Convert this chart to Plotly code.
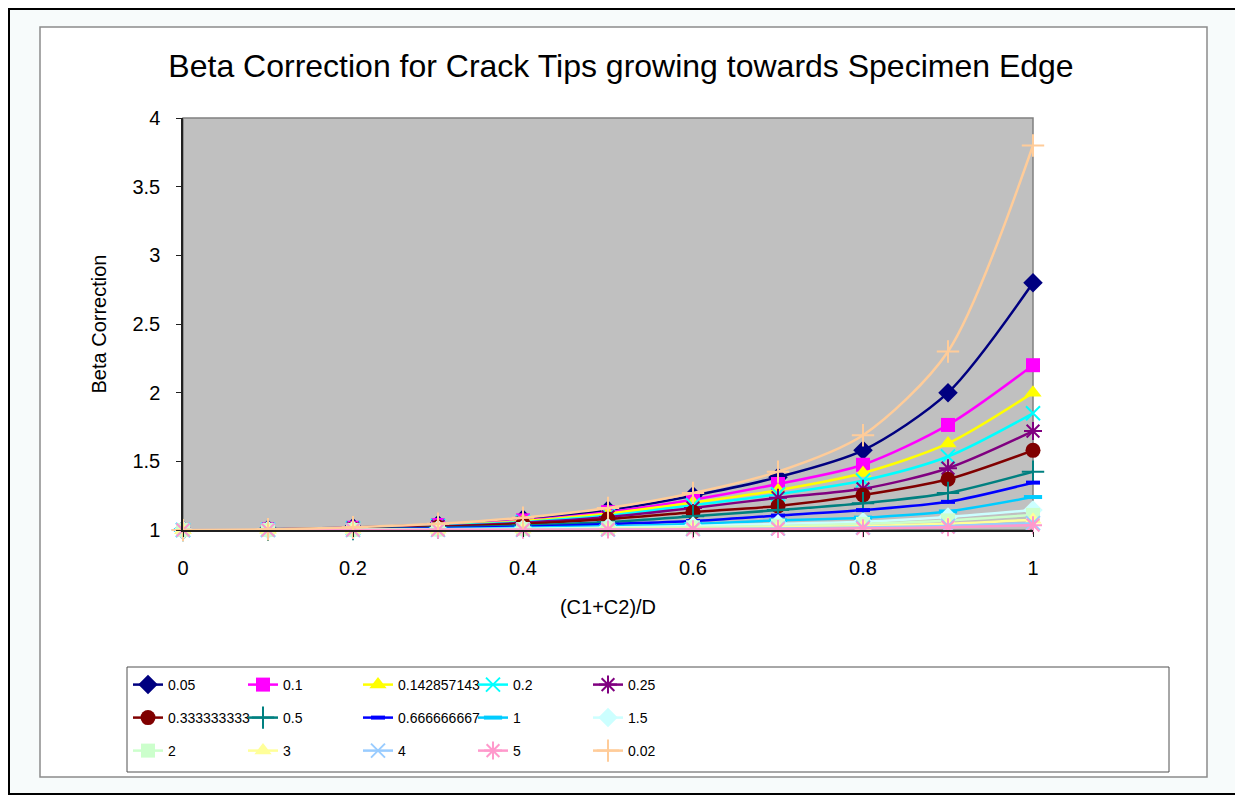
import plotly.graph_objects as go

# (C1+C2)/D positions
x_ratio = [0, 0.1, 0.2, 0.3, 0.4, 0.5, 0.6, 0.7, 0.8, 0.9, 1.0]

series_names = ['0.05', '0.1', '0.142857143', '0.2', '0.25',
                '0.333333333', '0.5', '0.666666667', '1', '1.5',
                '2', '3', '4', '5', '0.02']

beta_005 = [1, 1.005, 1.018, 1.04, 1.08, 1.145, 1.25, 1.385, 1.58, 2.0, 2.80]
beta_01 = [1, 1.004, 1.016, 1.036, 1.07, 1.13, 1.22, 1.335, 1.475, 1.765, 2.20]
beta_0143 = [1, 1.004, 1.015, 1.033, 1.065, 1.12, 1.20, 1.29, 1.415, 1.63, 2.0]
beta_02 = [1, 1.003, 1.013, 1.03, 1.058, 1.105, 1.18, 1.26, 1.36, 1.535, 1.85]
beta_025 = [1, 1.003, 1.012, 1.027, 1.053, 1.095, 1.16, 1.235, 1.30, 1.45, 1.72]
beta_0333 = [1, 1.002, 1.01, 1.022, 1.045, 1.08, 1.13, 1.175, 1.255, 1.37, 1.58]
beta_05 = [1, 1.002, 1.007, 1.016, 1.032, 1.058, 1.10, 1.145, 1.195, 1.27, 1.425]
beta_0667 = [1, 1.001, 1.005, 1.012, 1.024, 1.043, 1.065, 1.105, 1.145, 1.205, 1.345]
beta_1 = [1, 1.001, 1.003, 1.008, 1.016, 1.028, 1.044, 1.07, 1.09, 1.135, 1.24]
beta_15 = [1, 1.0, 1.002, 1.005, 1.01, 1.018, 1.03, 1.045, 1.06, 1.095, 1.145]
beta_2 = [1, 1.0, 1.001, 1.003, 1.007, 1.012, 1.02, 1.03, 1.045, 1.07, 1.11]
beta_3 = [1, 1.0, 1.001, 1.002, 1.004, 1.007, 1.012, 1.018, 1.028, 1.045, 1.075]
beta_4 = [1, 1.0, 1.0, 1.001, 1.002, 1.004, 1.007, 1.011, 1.018, 1.03, 1.05]
beta_5 = [1, 1.0, 1.0, 1.001, 1.001, 1.003, 1.005, 1.008, 1.012, 1.02, 1.035]
beta_002 = [1, 1.005, 1.02, 1.045, 1.09, 1.16, 1.27, 1.425, 1.69, 2.30, 3.80]

all_series = [beta_005, beta_01, beta_0143, beta_02, beta_025,
              beta_0333, beta_05, beta_0667, beta_1, beta_15,
              beta_2, beta_3, beta_4, beta_5, beta_002]

colors = ['#000080', '#FF00FF', '#FFFF00', '#00FFFF', '#800080',
          '#800000', '#008080', '#0000FF', '#00CCFF', '#CCFFFF',
          '#CCFFCC', '#FFFF99', '#99CCFF', '#FF99CC', '#FFCC99']
symbols = ['diamond', 'square', 'triangle-up', 'x-thin-open', 'asterisk-open',
           'circle', 'cross-thin-open', 'line-ew-open', 'line-ew-open', 'diamond',
           'square', 'triangle-up', 'x-thin-open', 'asterisk-open', 'cross-thin-open']
sizes = [15, 14, 15, 14, 15, 15, 16, 10, 13, 15, 14, 15, 14, 15, 16]
legend_ids = ['legend'] * 5 + ['legend2'] * 5 + ['legend3'] * 5

# page has an 8px body margin, so work in page pixels and shift
OFF = 8
W, H = 1235, 790
L, R, T, B = 183 - OFF, 210, 118 - OFF, 268
pw, ph = W - L - R, H - T - B


def px_x(v):
    return (v - OFF - L) / pw


def px_y(v):
    return (H - B - (v - OFF)) / ph


fig = go.Figure()
for name, vals, col, sym, sz, lg in zip(series_names, all_series, colors, symbols, sizes, legend_ids):
    open_sym = sym.endswith('-open')
    lw = 4 if sym == 'line-ew-open' else 2
    fig.add_trace(go.Scatter(
        x=x_ratio, y=vals, name=name, mode='lines+markers', legend=lg,
        cliponaxis=False,
        line=dict(color=col, width=2.5, shape='spline', smoothing=0.8),
        marker=dict(symbol=sym, size=sz, color=col,
                    line=dict(color=col, width=lw if open_sym else 0)),
    ))

font_main = 'Liberation Sans, Arial, sans-serif'
legend_style = dict(orientation='h', xanchor='left', yanchor='middle',
                    bgcolor='rgba(0,0,0,0)', borderwidth=0,
                    entrywidth=70, entrywidthmode='pixels',
                    font=dict(family=font_main, size=14, color='black'))

fig.update_layout(
    width=W, height=H,
    margin=dict(l=L, r=R, t=T, b=B, autoexpand=False),
    paper_bgcolor='white',
    plot_bgcolor='#c0c0c0',
    font=dict(family=font_main, color='black'),
    title=dict(text='Beta Correction for Crack Tips growing towards Specimen Edge',
               x=(621 - OFF) / W, xref='container', xanchor='center',
               y=1 - (66 - OFF) / H, yref='container', yanchor='middle',
               font=dict(size=32, color='black')),
    legend=dict(x=px_x(128), y=px_y(685), **legend_style),
    legend2=dict(x=px_x(128), y=px_y(718), **legend_style),
    legend3=dict(x=px_x(128), y=px_y(751), **legend_style),
    shapes=[
        # outer frame
        dict(type='rect', xref='paper', yref='paper', layer='below',
             x0=px_x(9), x1=px_x(1241), y0=px_y(794), y1=px_y(9),
             line=dict(color='black', width=2), fillcolor='#f7fbfb'),
        # chart area
        dict(type='rect', xref='paper', yref='paper', layer='below',
             x0=px_x(40), x1=px_x(1207), y0=px_y(777), y1=px_y(27),
             line=dict(color='#8c8c8c', width=1.5), fillcolor='white'),
        # plot area
        dict(type='rect', xref='paper', yref='paper', layer='below',
             x0=0, x1=1, y0=0, y1=1,
             line=dict(color='#808080', width=1.5), fillcolor='#c0c0c0'),
        # legend box
        dict(type='rect', xref='paper', yref='paper', layer='below',
             x0=px_x(127), x1=px_x(1169), y0=px_y(772), y1=px_y(667),
             line=dict(color='#505050', width=1), fillcolor='white'),
    ],
)

fig.update_xaxes(
    range=[0, 1], dtick=0.2, tick0=0, showgrid=False, zeroline=False,
    showline=True, linecolor='#202020', linewidth=1.5,
    ticks='outside', ticklen=5, tickcolor='#202020', ticklabelstandoff=14,
    tickfont=dict(size=20), tickformat='~g',
    title=dict(text='(C1+C2)/D', font=dict(size=20), standoff=22),
)
fig.update_yaxes(
    range=[1, 4], dtick=0.5, tick0=1, showgrid=False, zeroline=False,
    showline=True, linecolor='#202020', linewidth=1.5,
    ticks='outside', ticklen=5, tickcolor='#202020', ticklabelstandoff=12,
    tickfont=dict(size=20), tickformat='~g',
    title=dict(text='Beta Correction', font=dict(size=20), standoff=20),
)

fig.write_html('out.html')
